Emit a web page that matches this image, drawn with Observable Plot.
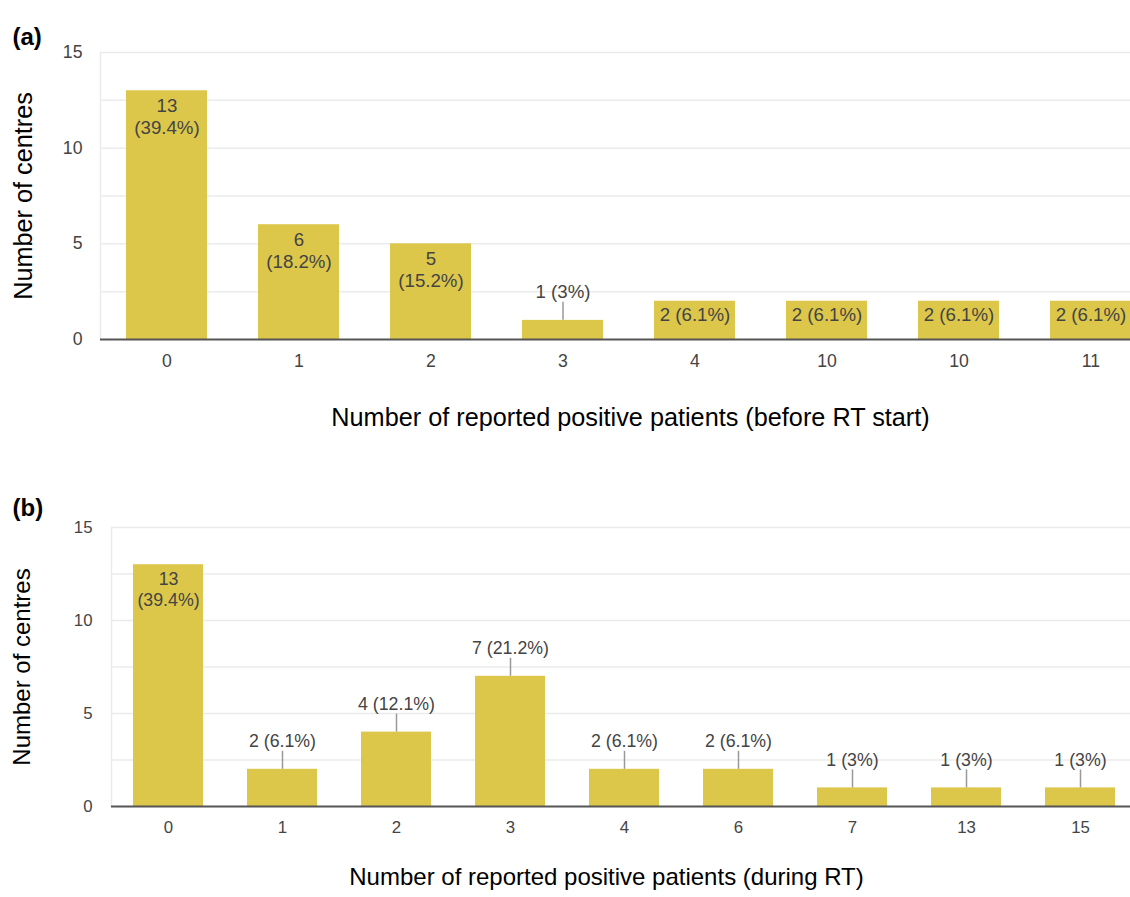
<!DOCTYPE html>
<html>
<head>
<meta charset="utf-8">
<script src="https://cdn.jsdelivr.net/npm/d3@7"></script>
<script src="https://cdn.jsdelivr.net/npm/@observablehq/plot@0.6"></script>
<style>
  html, body { margin: 0; padding: 0; background: white; overflow: hidden; }
  #wrap { width: 1130px; height: 897px; overflow: hidden; position: relative; }
  #wrap svg { display: block; max-width: none !important; }
</style>
</head>
<body>
<div id="wrap"></div>
<script>
// Panel (a): before RT start
const catsA = ["0", "1", "2", "3", "4", "10", "10", "11"];
const valsA = [13, 6, 5, 1, 2, 2, 2, 2];
const pctsA = ["39.4%", "18.2%", "15.2%", "3%", "6.1%", "6.1%", "6.1%", "6.1%"];

// Panel (b): during RT
const catsB = ["0", "1", "2", "3", "4", "6", "7", "13", "15"];
const valsB = [13, 2, 4, 7, 2, 2, 1, 1, 1];
const pctsB = ["39.4%", "6.1%", "12.1%", "21.2%", "6.1%", "6.1%", "3%", "3%", "3%"];

const yTicks = [0, 5, 10, 15];
const gridValues = [2.5, 5, 7.5, 10, 12.5, 15];

const FONT = "'Liberation Sans', Arial, sans-serif";
const BAR = "#dcc74b";

function panel(o) {
  const s = o.scale;
  const LABEL_SIZE = 18.5 * s, TICK_SIZE = 17.5 * s, TITLE_SIZE = 25 * s;
  const rows = o.cats.map((c, i) => ({i, c, v: o.vals[i], p: o.pcts[i]}));
  const inside2 = rows.filter(d => d.v >= o.twoLineMin);
  const inside1 = rows.filter(d => d.v < o.twoLineMin && o.fitSingle && d.v >= 2);
  const above = rows.filter(d => !inside2.includes(d) && !inside1.includes(d));
  return Plot.plot({
    width: o.width, height: o.height,
    marginLeft: o.marginLeft, marginRight: 0,
    marginTop: o.marginTop, marginBottom: o.marginBottom,
    style: {fontFamily: FONT, fontSize: "16px", color: "#444", background: "white", overflow: "visible", maxWidth: "none"},
    x: {type: "band", domain: rows.map(d => d.i), paddingInner: 0.39, paddingOuter: 0.195},
    y: {domain: [0, 15]},
    marks: [
      Plot.ruleY(gridValues, {stroke: "#ebebeb", strokeWidth: 1.5}),
      Plot.frame({anchor: "left", stroke: "#ebebeb", strokeWidth: 1.5}),
      Plot.barY(rows, {x: "i", y: "v", fill: BAR}),
      Plot.ruleY([0], {stroke: "#555", strokeWidth: 2}),
      Plot.axisY({ticks: yTicks, tickSize: 0, tickPadding: o.yPad, label: null, fontSize: TICK_SIZE, fill: "#444"}),
      Plot.axisX({tickSize: 0, tickPadding: 15, label: null, tickFormat: i => o.cats[i], fontSize: TICK_SIZE, fill: "#444"}),
      Plot.ruleX(above, {x: "i", y1: "v", y2: "v", insetBottom: 18, stroke: "#999", strokeWidth: 1.5}),
      Plot.text(above, {x: "i", y: "v", text: d => `${d.v} (${d.p})`, lineAnchor: "bottom", dy: -22, fill: "#444", fontSize: LABEL_SIZE}),
      Plot.text(inside1, {x: "i", y: "v", text: d => `${d.v} (${d.p})`, lineAnchor: "top", dy: 6, fill: "#444", fontSize: LABEL_SIZE}),
      Plot.text(inside2, {x: "i", y: "v", text: d => `${d.v}\n(${d.p})`, lineAnchor: "top", dy: 6, lineHeight: 1.17, fill: "#444", fontSize: LABEL_SIZE}),
      Plot.text([o.tag], {frameAnchor: "top-left", dx: o.tagDx, dy: o.tagDy, textAnchor: "start", fontWeight: "bold", fontSize: 24, fill: "#000"}),
      Plot.text([o.yTitle], {frameAnchor: "left", rotate: -90, textAnchor: "middle", dx: o.yTitleDx, fontSize: TITLE_SIZE, fill: "#000"}),
      Plot.text([o.xTitle], {frameAnchor: "bottom", textAnchor: "middle", dx: o.xTitleDx, dy: o.xTitleDy, fontSize: TITLE_SIZE, fill: "#000"})
    ]
  });
}

const wrap = document.getElementById("wrap");
wrap.append(panel({
  cats: catsA, vals: valsA, pcts: pctsA, fitSingle: true, twoLineMin: 5, scale: 1.01,
  width: 1156, height: 450, marginLeft: 100, marginTop: 52, marginBottom: 111, yPad: 18,
  tag: "(a)", tagDx: -88, tagDy: -25,
  yTitle: "Number of centres", yTitleDx: -77,
  xTitle: "Number of reported positive patients (before RT start)", xTitleDx: 2, xTitleDy: 86
}));
wrap.append(panel({
  cats: catsB, vals: valsB, pcts: pctsB, fitSingle: false, twoLineMin: 10, scale: 0.96,
  width: 1137, height: 447, marginLeft: 111, marginTop: 77, marginBottom: 91, yPad: 19,
  tag: "(b)", tagDx: -99, tagDy: -29,
  yTitle: "Number of centres", yTitleDx: -89,
  xTitle: "Number of reported positive patients (during RT)", xTitleDx: -18, xTitleDy: 78
}));
</script>
</body>
</html>
